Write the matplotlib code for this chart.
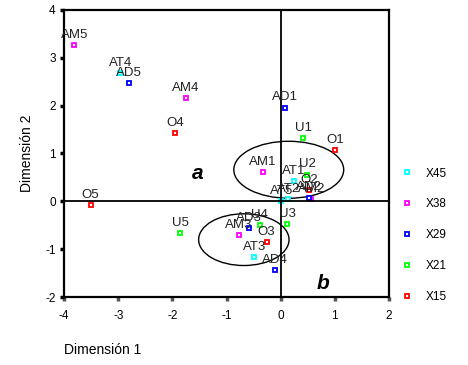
import numpy as np
import matplotlib.pyplot as plt
from matplotlib.patches import Ellipse

plt.rcParams['font.family'] = ['Liberation Sans', 'DejaVu Sans']
plt.rcParams['axes.unicode_minus'] = False

# series (legend order)
series = ['X45', 'X38', 'X29', 'X21', 'X15']
colors = ['#00ffff', '#ff00ff', '#0000ff', '#00ff00', '#ff0000']

# X45 -> AT
at_lab = ['AT1', 'AT2', 'AT3', 'AT4', 'AT5']
at_x = [0.24, 0.14, -0.49, -2.96, 0.01]
at_y = [0.43, 0.04, -1.17, 2.68, 0.00]
# X38 -> AM
am_lab = ['AM1', 'AM2', 'AM3', 'AM4', 'AM5']
am_x = [-0.33, 0.57, -0.77, -1.75, -3.81]
am_y = [0.62, 0.05, -0.70, 2.15, 3.26]
# X29 -> AD
ad_lab = ['AD1', 'AD2', 'AD3', 'AD4', 'AD5']
ad_x = [0.08, 0.52, -0.58, -0.11, -2.80]
ad_y = [1.96, 0.08, -0.56, -1.43, 2.47]
# X21 -> U
u_lab = ['U1', 'U2', 'U3', 'U4', 'U5']
u_x = [0.42, 0.49, 0.12, -0.39, -1.85]
u_y = [1.32, 0.56, -0.47, -0.50, -0.66]
# X15 -> O
o_lab = ['O1', 'O2', 'O3', 'O4', 'O5']
o_x = [1.00, 0.53, -0.26, -1.95, -3.51]
o_y = [1.07, 0.23, -0.85, 1.42, -0.08]

groups = [(at_lab, at_x, at_y), (am_lab, am_x, am_y), (ad_lab, ad_x, ad_y),
          (u_lab, u_x, u_y), (o_lab, o_x, o_y)]

fig = plt.figure(figsize=(4.68, 3.65), dpi=100)
ax = fig.add_axes([0.137, 0.186, 0.694, 0.787])

for (lab, xs, ys), name, c in zip(groups, series, colors):
    ax.plot(xs, ys, 's', ms=3.2, mfc='white', mec=c, mew=1.3, ls='none', label=name)
    for l, x, y in zip(lab, xs, ys):
        ax.annotate(l, (x, y), xytext=(0, 3), textcoords='offset points',
                    ha='center', va='bottom', fontsize=9.5, color='#222222')

ax.axhline(0, color='k', lw=1.3)
ax.axvline(0, color='k', lw=1.3)

ax.add_patch(Ellipse((0.15, 0.66), 2.03, 1.19, fill=False, ec='k', lw=1))
ax.add_patch(Ellipse((-0.68, -0.80), 1.67, 1.08, fill=False, ec='k', lw=1))

ax.text(-1.53, 0.59, 'a', fontsize=15, fontweight='bold', fontstyle='italic',
        ha='center', va='center')
ax.text(0.79, -1.72, 'b', fontsize=15, fontweight='bold', fontstyle='italic',
        ha='center', va='center')

ax.set_xlim(-4, 2)
ax.set_ylim(-2, 4)
ax.set_xticks(np.arange(-4, 3, 1))
ax.set_yticks(np.arange(-2, 5, 1))
for s in ax.spines.values():
    s.set_linewidth(1.6)
ax.tick_params(direction='out', length=3, width=2.5, labelsize=8.5, pad=3)
ax.tick_params(axis='x', color='#555555', pad=6)

ax.set_ylabel('Dimensión 2', fontsize=10, labelpad=8)
fig.text(0.137, 0.04, 'Dimensión 1', fontsize=10, ha='left', va='center')

ax.legend(loc='center left', bbox_to_anchor=(1.03, 0.215), frameon=False,
          fontsize=8.5, handlelength=0.6, handletextpad=1.3, labelspacing=1.6,
          borderaxespad=0)

plt.savefig('out.png', dpi=100)
